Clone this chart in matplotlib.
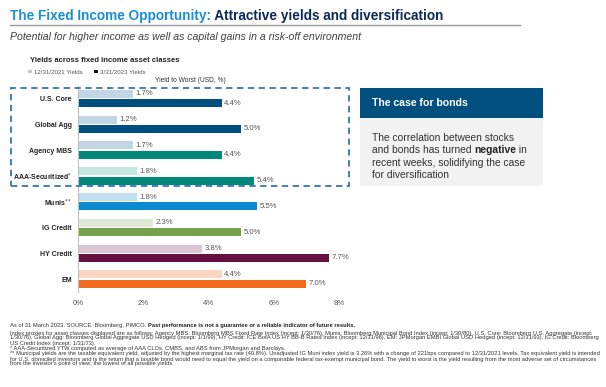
import matplotlib
matplotlib.use("Agg")
import matplotlib.pyplot as plt
from matplotlib.patches import Rectangle, Patch
from matplotlib.text import Annotation
import numpy as np

plt.rcParams['font.family'] = ['Liberation Sans', 'DejaVu Sans']

# ---------------- data ----------------
categories = ["U.S. Core", "Global Agg", "Agency MBS", "AAA-Securitized$^{*}$",
              "Munis$^{**}$", "IG Credit", "HY Credit", "EM"]
yields_2021 = [1.7, 1.2, 1.7, 1.8, 1.8, 2.3, 3.8, 4.4]
yields_2023 = [4.4, 5.0, 4.4, 5.4, 5.5, 5.0, 7.7, 7.0]
series_labels = ["12/31/2021 Yields", "3/31/2023 Yields"]
x_ticks = [0, 2, 4, 6, 8]
x_tick_labels = ["0%", "2%", "4%", "6%", "8%"]

light_colors = ["#c3d6e5", "#c3d6e5", "#c3d6e5", "#c6e6e0",
                "#c0e1f1", "#dfe8d6", "#dcc5d4", "#fbd6c3"]
dark_colors = ["#00507f", "#00507f", "#00897a", "#00897a",
               "#0a8bd0", "#76a14a", "#651040", "#f26a1b"]

W, H = 606, 387
fig = plt.figure(figsize=(W / 100, H / 100), dpi=100)


def fx(x):
    return x / W


def fy(y):
    return 1 - y / H


def follow(prev, s, **kw):
    """Place text s directly after text artist prev (same baseline row)."""
    a = Annotation(s, xy=(1, 0), xycoords=prev, va="bottom", ha="left",
                   annotation_clip=False, **kw)
    fig.add_artist(a)
    return a


# ---------------- chart axes ----------------
ax_left, ax_right = 78, 339
ax_top, ax_bot = 85.6, 292.0
ax = fig.add_axes([fx(ax_left), fy(ax_bot), fx(ax_right - ax_left), (ax_bot - ax_top) / H])

y = np.arange(len(categories))
bh = 0.31
off = 0.18
ax.barh(y - off, yields_2021, height=bh, color=light_colors, edgecolor="none")
ax.barh(y + off, yields_2023, height=bh, color=dark_colors, edgecolor="none")
for yy, v in zip(y - off, yields_2021):
    ax.text(v + 0.07, yy, f"{v:.1f}%", va="center", ha="left", fontsize=5.6, color="#555555")
for yy, v in zip(y + off, yields_2023):
    ax.text(v + 0.07, yy, f"{v:.1f}%", va="center", ha="left", fontsize=5.6, color="#555555")

ax.set_xlim(0, 8)
ax.set_ylim(len(categories) - 0.5, -0.5)
ax.set_xticks(x_ticks)
ax.set_xticklabels(x_tick_labels, fontsize=5.6, color="#555555")
ax.set_yticks(y)
ax.set_yticklabels(categories, fontsize=5.0, fontweight="bold", color="#222222")
ax.tick_params(axis="both", length=0)
ax.tick_params(axis="x", pad=6)
ax.tick_params(axis="y", pad=4.5)
for s in ["top", "right", "bottom"]:
    ax.spines[s].set_visible(False)
ax.spines["left"].set_color("#bfbfbf")
ax.spines["left"].set_linewidth(0.8)
ax.patch.set_alpha(0)

# ---------------- header ----------------
t1 = fig.text(fx(10), fy(16), "The Fixed Income Opportunity:", color="#1a8fd3",
              fontsize=9.8, fontweight="bold", va="center", ha="left")
follow(t1, " Attractive yields and diversification", color="#0d2b5a", fontsize=9.8,
       fontweight="bold")
fig.add_artist(plt.Line2D([fx(10), fx(520)], [fy(24.5), fy(24.5)],
                          color="#9a9a9a", lw=1.0))
fig.text(fx(10), fy(37), "Potential for higher income as well as capital gains in a risk-off environment",
         color="#404040", fontsize=7.55, style="italic", va="center", ha="left")

fig.text(fx(30), fy(61), "Yields across fixed income asset classes", fontsize=5.5,
         fontweight="bold", color="#222222", va="center", ha="left")
handles = [Patch(facecolor="#c8c8c8", edgecolor="none"), Patch(facecolor="#111111", edgecolor="none")]
fig.legend(handles, series_labels, loc="center left", bbox_to_anchor=(fx(28), fy(72)),
           ncol=2, frameon=False, fontsize=4.4, handlelength=0.7, handleheight=0.5,
           handletextpad=0.3, columnspacing=1.8, labelcolor="#555555", borderpad=0,
           borderaxespad=0)
fig.text(fx(155), fy(80), "Yield to Worst (USD, %)", fontsize=4.8, color="#333333",
         va="center", ha="left")

# dashed highlight box
fig.add_artist(Rectangle((fx(11), fy(186)), fx(349 - 11), (186 - 88) / H, fill=False,
                         edgecolor="#3576b0", lw=1.3, ls=(0, (3.5, 2.5)), zorder=2))

# ---------------- side box ----------------
fig.add_artist(Rectangle((fx(360), fy(118)), fx(543 - 360), 30 / H, facecolor="#00507f",
                         edgecolor="none", zorder=-1))
fig.add_artist(Rectangle((fx(360), fy(186)), fx(543 - 360), 68 / H, facecolor="#f2f2f2",
                         edgecolor="none", zorder=-1))
fig.text(fx(372), fy(103.5), "The case for bonds", color="white", fontsize=7.6,
         fontweight="bold", va="center", ha="left")
body_kw = dict(fontsize=7.4, color="#333333", va="baseline", ha="left")
fig.text(fx(372), fy(140.5), "The correlation between stocks", **body_kw)
p1 = fig.text(fx(372), fy(153), "and bonds has turned ", **body_kw)
p2 = follow(p1, "negative", fontsize=7.4, color="#222222", fontweight="bold")
follow(p2, " in", fontsize=7.4, color="#333333")
fig.text(fx(372), fy(165.5), "recent weeks, solidifying the case", **body_kw)
fig.text(fx(372), fy(178), "for diversification", **body_kw)

# ---------------- footnotes ----------------
lines = [
    (333, "Index proxies for asset classes displayed are as follows: Agency MBS: Bloomberg MBS Fixed Rate Index (incept: 1/30/76), Munis: Bloomberg Municipal Bond Index (incept: 1/30/80), U.S. Core: Bloomberg U.S. Aggregate (incept:"),
    (338, "1/30/76), Global Agg: Bloomberg Global Aggregate USD Hedged (incept: 1/1/99), HY Credit: ICE BofA US HY BB-B Rated Index (incept: 12/31/96), EM: JPMorgan EMBI Global USD Hedged (incept: 12/31/93), IG Credit: Bloomberg"),
    (343, "US Credit Index (incept: 1/31/73)."),
    (348.5, "* AAA-Securitized YTW computed as average of AAA CLOs, CMBS, and ABS from JPMorgan and Barclays."),
    (354, "** Municipal yields are the taxable equivalent yield, adjusted by the highest marginal tax rate (40.8%). Unadjusted IG Muni index yield is 3.26% with a change of 221bps compared to 12/31/2021 levels. Tax equivalent yield is intended"),
    (359, "for U.S. domiciled investors and is the return that a taxable bond would need to equal the yield on a comparable federal tax-exempt municipal bond. The yield to worst is the yield resulting from the most adverse set of circumstances"),
    (364, "from the investor's point of view; the lowest of all possible yields."),
]
# fit footnote font size so the widest line spans ~580 px as in the reference
renderer = fig.canvas.get_renderer()
probe = fig.text(0, 0, lines[0][1], fontsize=10)
wpx = probe.get_window_extent(renderer).width
probe.remove()
fn_size = 10 * 580 / wpx

fn_kw = dict(fontsize=fn_size, color="#333333", va="center", ha="left")
f1 = fig.text(fx(10), fy(325), "As of 31 March 2023. SOURCE: Bloomberg, PIMCO. ", **fn_kw)
follow(f1, "Past performance is not a guarantee or a reliable indicator of future results.",
       fontsize=fn_size, color="#222222", fontweight="bold")
for yy, s in lines:
    fig.text(fx(10), fy(yy), s, **fn_kw)

fig.savefig("out.png", dpi=100, facecolor="white")
